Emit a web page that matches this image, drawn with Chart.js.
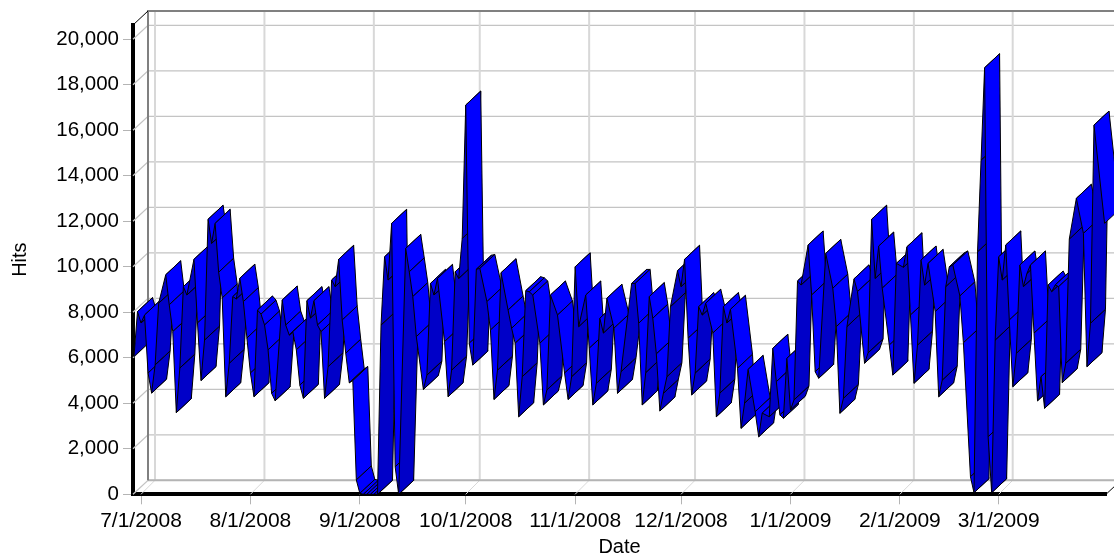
<!DOCTYPE html>
<html lang="en">
<head>
  <meta charset="UTF-8" />
  <title>Hits by date</title>
  <script src="https://cdn.jsdelivr.net/npm/chart.js"></script>
  <style>
    body { margin: 0; background: #fff; }
    canvas { display: block; }
  </style>
</head>
<body>
  <canvas id="hitsChart" width="1114" height="559"></canvas>
  <script>
    const days = [0,1,2,3,4,5,6,7,9,10,11,12,13,14,15,17,18,19,20,21,22,23,24,25,26,27,28,29,30,31,32,33,34,35,36,37,38,39,40,42,43,44,45,46,47,48,49,50,51,52,53,54,55,56,57,58,59,60,61,62,63,64,65,66,67,68,69,70,71,72,73,74,75,77,78,79,80,82,83,84,85,86,88,89,90,91,92,93,94,95,96,97,98,100,101,102,103,104,106,107,108,109,110,111,112,113,115,116,117,118,120,122,123,124,125,126,128,129,130,131,132,133,134,136,137,138,141,142,143,144,145,146,147,148,149,150,151,152,154,155,156,157,158,159,160,161,162,164,165,166,167,168,169,171,172,173,174,176,177,178,180,181,182,183,184,185,186,187,188,189,191,192,193,194,196,198,199,200,201,202,204,205,207,208,209,210,211,212,214,215,216,218,219,220,221,222,223,224,225,227,228,229,230,231,232,234,235,237,238,239,240,241,242,243,244,245,246,247,248,249,250,251,252,253,254,255,256,257,258,259,260,261,262,263,264,265,267,269,270,271,272,275].map(d => d - 2);
    const hits = [6050,8030,7530,7880,5330,4450,5690,8400,9650,8330,7150,3590,5550,9130,8760,10330,7530,5000,6780,12090,11030,11910,9760,8630,4290,5760,8690,8590,9500,8470,6870,5330,4290,8100,7920,7440,6350,4440,4110,8540,7440,7000,7150,6350,4800,4220,8510,7750,8510,7440,7150,4220,5610,9420,9130,10330,7660,6200,4900,5000,630,40,0,0,0,0,0,7440,10440,9420,11910,1210,0,10810,9780,8690,6930,4610,5240,9270,8760,9490,6710,4290,5460,9780,9490,11250,17110,6640,5680,9890,9930,8470,7220,4170,5460,9740,8100,7300,6640,3410,5170,8950,8900,8760,6640,3930,4590,8760,7880,5330,4170,5170,10000,7370,8760,6420,3930,4880,7740,7090,8620,7300,4440,5390,9270,9270,7520,3930,5350,8690,7740,6170,3660,4440,5170,8250,9830,9130,10330,6860,4370,5330,8250,7880,8400,7090,3410,4450,8250,7530,8130,5540,2900,4010,5490,3630,2530,3570,3410,6420,4950,3490,3340,5980,3710,4150,9380,9200,10960,8760,5390,5100,10590,9060,7370,3560,4220,7370,9470,8910,5760,6220,12090,9490,10910,9060,6560,5240,10150,9980,10880,7880,4880,6560,10300,9200,10150,8030,4290,5020,9130,10000,10080,8720,6660,770,70,10660,14690,18750,2530,70,6780,10440,9420,10960,7660,4730,6200,10080,9130,9710,10080,7080,4110,5170,3780,9200,8910,9200,9130,4910,5760,11220,13010,11470,5610,7520,16230,11910];
    const xTickDays = [0,31,62,92,123,153,184,215,243];
    const xTickLabels = ['7/1/2008','8/1/2008','9/1/2008','10/1/2008','11/1/2008','12/1/2008','1/1/2009','2/1/2009','3/1/2009'];
    const yTickValues = [0,2000,4000,6000,8000,10000,12000,14000,16000,18000,20000];

    const DEPTH_X = 15, DEPTH_Y = 14;
    const FONT = 'Liberation Sans';

    // back wall, floor and side wall of the pseudo-3D box
    const wallPlugin = {
      id: 'walls',
      beforeDatasetsDraw(chart) {
        const { ctx, chartArea: a, scales: { x, y } } = chart;
        ctx.save();
        ctx.lineWidth = 1.3;
        ctx.strokeStyle = '#c4c4c4';
        y.ticks.forEach(t => {
          const py = y.getPixelForValue(t.value);
          ctx.beginPath();
          ctx.moveTo(a.left, py);
          ctx.lineTo(a.left + DEPTH_X, py - DEPTH_Y);
          ctx.lineTo(a.right + DEPTH_X, py - DEPTH_Y);
          ctx.stroke();
        });
        ctx.strokeStyle = '#d8d8d8';
        x.ticks.forEach(t => {
          const px = x.getPixelForValue(t.value);
          ctx.lineWidth = 2;
          ctx.beginPath();
          ctx.moveTo(px + DEPTH_X - 1, a.top - DEPTH_Y);
          ctx.lineTo(px + DEPTH_X - 1, a.bottom - DEPTH_Y);
          ctx.stroke();
          ctx.lineWidth = 1;
          ctx.beginPath();
          ctx.moveTo(px + DEPTH_X - 1, a.bottom - DEPTH_Y);
          ctx.lineTo(px, a.bottom);
          ctx.stroke();
        });
        ctx.lineWidth = 2;
        ctx.strokeStyle = '#b4b4b4';
        ctx.beginPath();
        ctx.moveTo(a.left + DEPTH_X, a.bottom - DEPTH_Y);
        ctx.lineTo(a.right + DEPTH_X, a.bottom - DEPTH_Y);
        ctx.stroke();
        ctx.strokeStyle = '#808080';
        ctx.beginPath();
        ctx.moveTo(a.left + DEPTH_X, a.bottom - DEPTH_Y);
        ctx.lineTo(a.left + DEPTH_X, a.top - DEPTH_Y);
        ctx.lineTo(a.right + DEPTH_X, a.top - DEPTH_Y);
        ctx.stroke();
        ctx.lineWidth = 1;
        ctx.strokeStyle = '#000';
        ctx.beginPath();
        ctx.moveTo(a.left, a.top);
        ctx.lineTo(a.left + DEPTH_X, a.top - DEPTH_Y);
        ctx.moveTo(a.right, a.bottom);
        ctx.lineTo(a.right + DEPTH_X, a.bottom - DEPTH_Y);
        ctx.stroke();
        ctx.restore();
      }
    };

    // ribbon: one quad per segment, front edge comes from the dataset points
    const ribbonPlugin = {
      id: 'ribbon',
      afterDatasetsDraw(chart) {
        const { ctx } = chart;
        const pts = chart.getDatasetMeta(0).data;
        ctx.save();
        ctx.lineWidth = 1;
        ctx.lineJoin = 'bevel';
        ctx.strokeStyle = '#000';
        for (let i = 0; i < pts.length - 1; i++) {
          const p0 = pts[i], p1 = pts[i + 1];
          ctx.beginPath();
          ctx.moveTo(p0.x, p0.y);
          ctx.lineTo(p1.x, p1.y);
          ctx.lineTo(p1.x + DEPTH_X, p1.y - DEPTH_Y);
          ctx.lineTo(p0.x + DEPTH_X, p0.y - DEPTH_Y);
          ctx.closePath();
          ctx.fillStyle = p1.y >= p0.y ? '#0000ff' : '#0000c8';
          ctx.fill();
          ctx.stroke();
        }
        ctx.restore();
      }
    };

    new Chart(document.getElementById('hitsChart').getContext('2d'), {
      type: 'line',
      data: {
        datasets: [{
          label: 'Hits',
          data: days.map((d, i) => ({ x: d, y: hits[i] })),
          showLine: false,
          pointRadius: 0
        }]
      },
      options: {
        responsive: false,
        animation: false,
        layout: { padding: { top: 25, right: 8 } },
        plugins: { legend: { display: false }, tooltip: { enabled: false } },
        scales: {
          x: {
            type: 'linear',
            min: -2.27,
            max: 273.4,
            z: 1,
            afterFit(s) { s.height = 64.7; },
            afterBuildTicks(s) { s.ticks = xTickDays.map(v => ({ value: v })); },
            border: { display: true, width: 4, color: '#000' },
            grid: { drawOnChartArea: false, tickLength: 10, tickColor: '#b4b4b4', tickWidth: 1 },
            ticks: {
              autoSkip: false,
              maxRotation: 0,
              padding: 4,
              color: '#000',
              font: { family: FONT, size: 21 },
              callback: (v) => xTickLabels[xTickDays.indexOf(v)]
            },
            title: { display: true, text: 'Date', color: '#000', padding: 0, font: { family: FONT, size: 20 } }
          },
          y: {
            min: 0,
            max: 20629,
            z: 1,
            afterFit(s) { s.width = 133; },
            afterBuildTicks(s) { s.ticks = yTickValues.map(v => ({ value: v })); },
            border: { display: true, width: 4, color: '#000' },
            grid: { drawOnChartArea: false, tickLength: 10, tickColor: '#b4b4b4', tickWidth: 1 },
            ticks: {
              padding: 4,
              color: '#000',
              font: { family: FONT, size: 20.5 },
              callback: v => v.toLocaleString('en-US')
            },
            title: { display: true, text: 'Hits', color: '#000', padding: { top: 8, bottom: 0 }, font: { family: FONT, size: 20 } }
          }
        }
      },
      plugins: [wallPlugin, ribbonPlugin]
    });
  </script>
</body>
</html>
